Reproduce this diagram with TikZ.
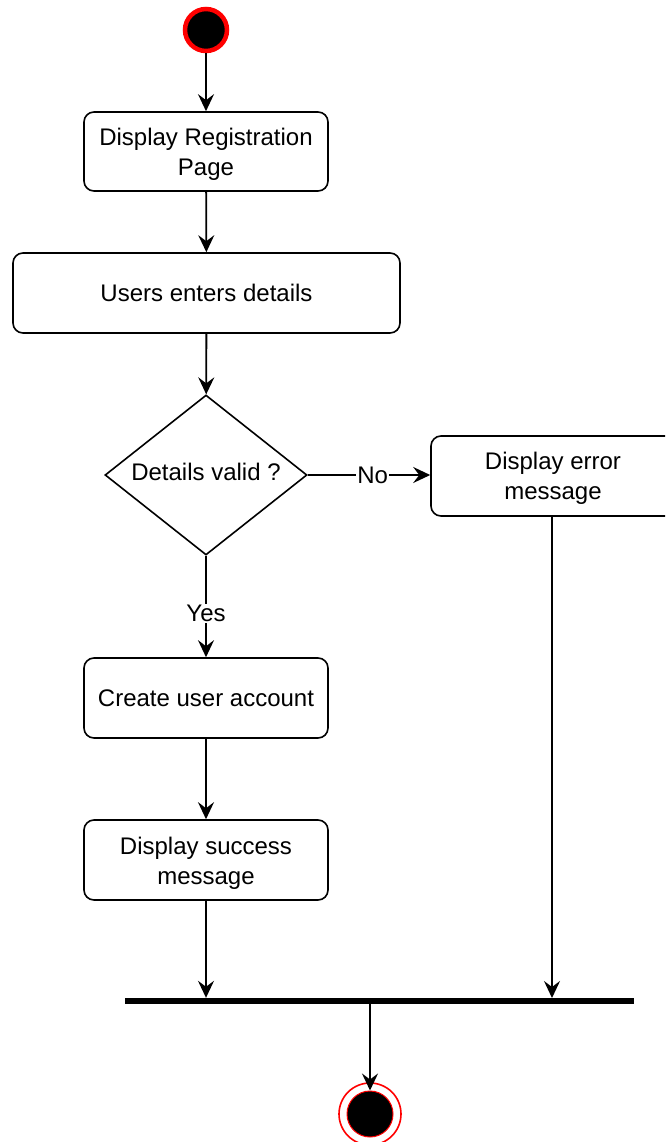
\documentclass[tikz,border=0pt]{standalone}
\usepackage{fontspec}
\setmainfont{Liberation Sans}
\usetikzlibrary{arrows.meta,shapes.geometric}
\begin{document}
\begin{tikzpicture}[x=1pt,y=-1pt,
  font=\fontsize{24}{30}\selectfont,
  act/.style={draw, line width=1.6pt, rounded corners=10pt, align=center, inner sep=0pt},
  txt/.style={align=center, inner sep=0pt},
  flow/.style={line width=1.8pt, -{Stealth[length=17pt,width=16pt,inset=6pt]}},
  lbl/.style={fill=white, inner sep=1pt}]
\useasboundingbox (0,0) rectangle (665,1142);
\clip (0,0) rectangle (665,1142);
% start node
\node (start) [circle, draw=red, line width=4.5pt, fill=black, minimum size=42pt, inner sep=0pt] at (206,30) {};
% actions (two-line captions are set as separate text nodes)
\node (reg) [act, minimum width=244pt, minimum height=79pt] at (206,151.5) {};
\node (regtxt) [txt] at ([yshift=-3pt]reg.center) {Display Registration\\Page};
\node (enter) [act, minimum width=387pt, minimum height=80pt] at (206.5,293) {Users enters details};
\node (valid) [draw, line width=1.6pt, diamond, minimum width=202pt, minimum height=160pt, inner sep=0pt] at (206,475) {};
\node (validtxt) at (206,472) {Details valid ?};
\node (err) [act, minimum width=244pt, minimum height=80pt] at (553,476) {};
\node (errtxt) [txt] at ([yshift=-2.5pt]err.center) {Display error\\message};
\node (create) [act, minimum width=244pt, minimum height=80pt] at (206,698) {Create user account};
\node (succ) [act, minimum width=244pt, minimum height=80pt] at (206,860) {};
\node (succtxt) [txt] at ([yshift=-3pt]succ.center) {Display success\\message};
% join bar
\node (bar) [fill=black, minimum width=509pt, minimum height=6pt, inner sep=0pt] at (379.5,1001) {};
% final node
\node (final) [circle, draw=red, line width=1.6pt, minimum size=62pt, inner sep=0pt] at (370,1114) {};
\node (finalin) [circle, draw=red, line width=1pt, fill=black, minimum size=46pt, inner sep=0pt] at (370,1114) {};
% flows
\draw[flow] (start) -- (reg);
\draw[flow] (reg) -- (enter);
\draw[flow] (enter) -- (valid);
\draw[flow] (valid.east) -- node[lbl, pos=0.53] {No} (err.west |- valid.east);
\draw[flow] (valid.south) -- node[lbl, pos=0.57] {Yes} (create.north);
\draw[flow] (create) -- (succ);
\draw[flow] (succ.south) -- (succ.south |- bar.north);
\draw[flow] (err.south -| 552,0) -- (552,998);
\draw[flow] (370,1001) -- (finalin.north);
\end{tikzpicture}
\end{document}
